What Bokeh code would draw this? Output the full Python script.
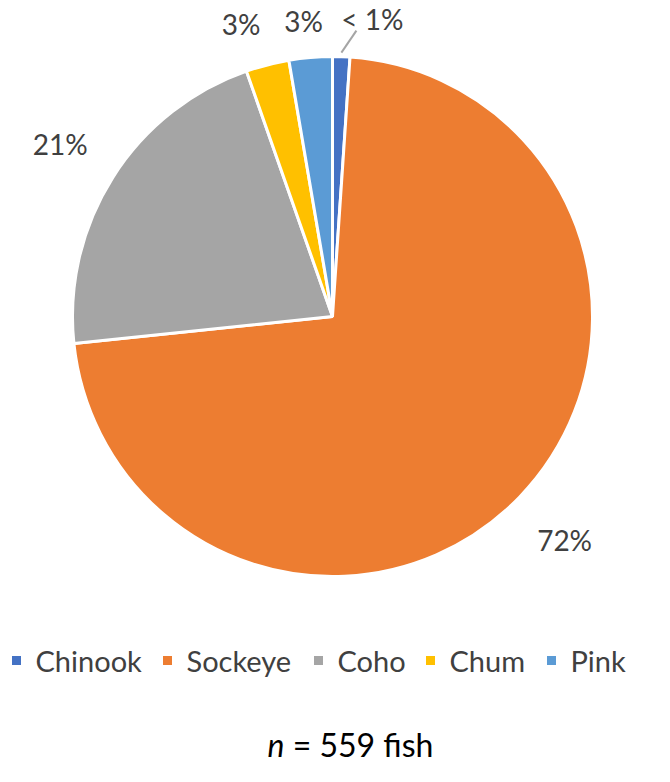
import math
from bokeh.plotting import figure
from bokeh.models import Range1d, ColumnDataSource
from bokeh.core.properties import value
from bokeh.embed import file_html
from bokeh.resources import INLINE

# ---- data ----
species = ["Chinook", "Sockeye", "Coho", "Chum", "Pink"]
fish_counts = [6, 404, 119, 15, 15]
pct_labels = ["< 1%", "72%", "21%", "3%", "3%"]
colors = ["#4472C4", "#ED7D31", "#A5A5A5", "#FFC000", "#5B9BD5"]
n_total = 559

W, H = 654, 766
FONT = "Lato"

p = figure(width=W, height=H, output_backend="svg", toolbar_location=None,
           x_range=Range1d(0, W), y_range=Range1d(0, H), min_border=0)
p.axis.visible = False
p.grid.visible = False
p.outline_line_color = None
p.background_fill_color = "white"
p.border_fill_color = "white"

def px(x):
    return x
def py(y):
    return H - y

cx, cy, R = px(332), py(316), 260

total = sum(fish_counts)
starts, ends, mids = [], [], []
cum = 0.0
for c in fish_counts:
    f0 = cum / total
    cum += c
    f1 = cum / total
    starts.append(math.pi / 2 - 2 * math.pi * f0)
    ends.append(math.pi / 2 - 2 * math.pi * f1)
    mids.append(math.pi / 2 - 2 * math.pi * (f0 + f1) / 2)

src = ColumnDataSource(dict(start=starts, end=ends, color=colors, name=species))
p.wedge(x=cx, y=cy, radius=R, start_angle="start", end_angle="end",
        direction="clock", fill_color="color", line_color="white",
        line_width=3, source=src)

# data labels
rad_f = [1.0, 1.24, 1.24, 1.16, 1.14]
nudge = [(0, 0), (0, 0), (0, 0), (-16, 0), (-4, 0)]
lx, ly = [], []
for i, a in enumerate(mids):
    r = R * rad_f[i]
    lx.append(cx + r * math.cos(a) + nudge[i][0])
    ly.append(cy + r * math.sin(a) + nudge[i][1])
# Chinook label sits off to the right with a leader line
a0 = mids[0]
ex, ey = cx + (R + 4) * math.cos(a0), cy + (R + 4) * math.sin(a0)
lx[0], ly[0] = ex + 31, ey + 34
p.segment(x0=[ex], y0=[ey], x1=[ex + 15], y1=[ey + 22], line_color="#A5A5A5",
          line_width=2)
p.text(x=lx, y=ly, text=pct_labels, text_font=value(FONT), text_font_size="28px",
       text_color="#404040", text_align="center", text_baseline="middle")

# legend
leg_sq_x = [px(16), px(167), px(318), px(430), px(551)]
leg_y = py(660)
p.rect(x=leg_sq_x, y=[leg_y] * 5, width=9, height=9, fill_color=colors,
       line_color=None)
p.text(x=[x + 19 for x in leg_sq_x], y=[leg_y] * 5, text=species,
       text_font=value(FONT), text_font_size="29px", text_color="#404040",
       text_align="left", text_baseline="middle")

# n = 559 fish
p.text(x=[px(284)], y=[py(744)], text=["n"], text_font=value(FONT),
       text_font_size="32px", text_font_style="italic", text_color="black",
       text_align="right", text_baseline="middle")
p.text(x=[px(284)], y=[py(744)], text=["\u00a0= " + str(n_total) + " fish"],
       text_font=value(FONT), text_font_size="32px", text_color="black",
       text_align="left", text_baseline="middle")

open("out.html", "w").write(file_html(p, INLINE))
